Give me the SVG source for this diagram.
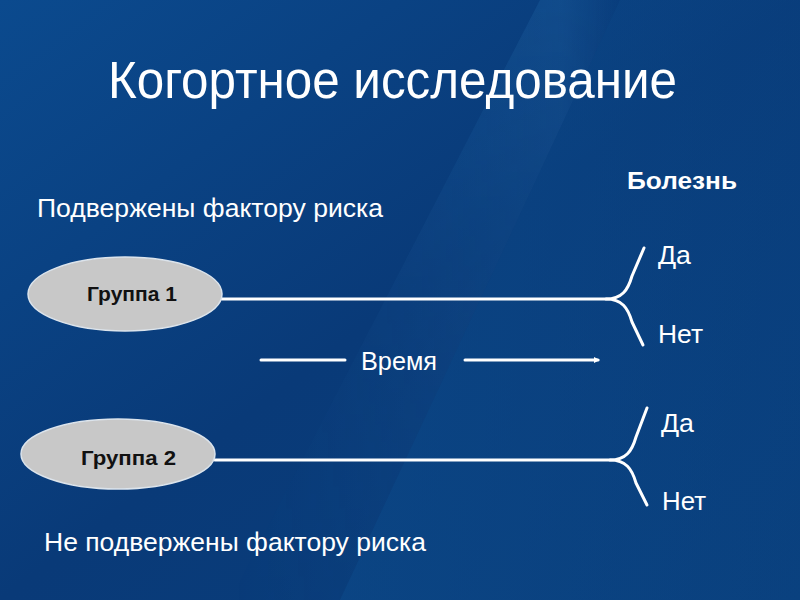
<svg xmlns="http://www.w3.org/2000/svg" width="800" height="600" viewBox="0 0 800 600">
<defs>
<linearGradient id="bg" x1="0" y1="0" x2="1" y2="1">
<stop offset="0" stop-color="#0b4a8e"/>
<stop offset="0.5" stop-color="#093a78"/>
<stop offset="1" stop-color="#0a3f7c"/>
</linearGradient>
<linearGradient id="streak" x1="0" y1="0" x2="1" y2="0">
<stop offset="0" stop-color="#2a78b8" stop-opacity="0"/>
<stop offset="0.85" stop-color="#2a78b8" stop-opacity="0.22"/>
<stop offset="1" stop-color="#2a78b8" stop-opacity="0"/>
</linearGradient>
<linearGradient id="fade" x1="0" y1="0" x2="0" y2="1">
<stop offset="0" stop-color="#fff"/>
<stop offset="1" stop-color="#fff" stop-opacity="0.35"/>
</linearGradient>
<mask id="m"><rect width="800" height="600" fill="url(#fade)"/></mask>
<linearGradient id="right" x1="0" y1="0" x2="1" y2="0">
<stop offset="0" stop-color="#0c4a8a" stop-opacity="0.6"/>
<stop offset="1" stop-color="#0a4686" stop-opacity="0.3"/>
</linearGradient>
<marker id="arr" markerWidth="8" markerHeight="8" refX="4" refY="3" orient="auto" markerUnits="userSpaceOnUse">
<path d="M0,0 L6,3 L0,6 Z" fill="#ffffff"/>
</marker>
</defs>
<style>
.t{font-family:"Liberation Sans",Arial,sans-serif;fill:#ffffff}
.b{font-weight:bold}
.grp{font-family:"Liberation Sans",Arial,sans-serif;font-weight:bold;font-size:21px;fill:#111111}
.node{fill:#c8c8c8;stroke:#dce4ec;stroke-width:1.5}
.ln{fill:none;stroke:#ffffff;stroke-width:3;stroke-linecap:round;stroke-linejoin:round}
</style>
<rect width="800" height="600" fill="url(#bg)"/>
<polygon points="540,0 620,0 340,600 230,600" fill="url(#streak)" mask="url(#m)"/>
<polygon points="620,0 800,0 800,600 340,600" fill="url(#right)"/>
<text class="t" x="108" y="98" font-size="51" textLength="569" lengthAdjust="spacingAndGlyphs">Когортное исследование</text>
<text class="t b" x="627" y="189" font-size="23" textLength="110" lengthAdjust="spacingAndGlyphs">Болезнь</text>
<text class="t" x="37" y="217" font-size="26" textLength="346" lengthAdjust="spacingAndGlyphs">Подвержены  фактору  риска</text>
<text class="t" x="44" y="551" font-size="26" textLength="382" lengthAdjust="spacingAndGlyphs">Не подвержены  фактору  риска</text>
<g id="connectors">
<path class="ln" d="M222,299 L606,299 C622,299 628,290 632,276 L644,248"/>
<path class="ln" d="M606,299 C622,299 628,308 632,322 L643,345"/>
<path class="ln" d="M215,460 L610,460 C626,460 632,451 636,437 L647,408"/>
<path class="ln" d="M610,460 C626,460 632,469 636,483 L647,505"/>
<line class="ln" x1="261" y1="360" x2="345" y2="360"/>
<line class="ln" x1="465" y1="360" x2="598" y2="360" marker-end="url(#arr)"/>
</g>
<g id="time"><text class="t" x="361" y="370" font-size="26" textLength="76" lengthAdjust="spacingAndGlyphs">Время</text></g>
<g id="group1">
<ellipse class="node" cx="125" cy="294" rx="97" ry="37"/>
<text class="grp" x="87" y="301" textLength="90" lengthAdjust="spacingAndGlyphs">Группа 1</text>
</g>
<g id="group2">
<ellipse class="node" cx="118" cy="454" rx="97" ry="35"/>
<text class="grp" x="81" y="465" textLength="95" lengthAdjust="spacingAndGlyphs">Группа 2</text>
</g>
<g id="outcomes1">
<text class="t" x="658" y="264" font-size="26" textLength="33" lengthAdjust="spacingAndGlyphs">Да</text>
<text class="t" x="658" y="343" font-size="26" textLength="45" lengthAdjust="spacingAndGlyphs">Нет</text>
</g>
<g id="outcomes2">
<text class="t" x="661" y="432" font-size="26" textLength="33" lengthAdjust="spacingAndGlyphs">Да</text>
<text class="t" x="662" y="510" font-size="26" textLength="44" lengthAdjust="spacingAndGlyphs">Нет</text>
</g>
</svg>
